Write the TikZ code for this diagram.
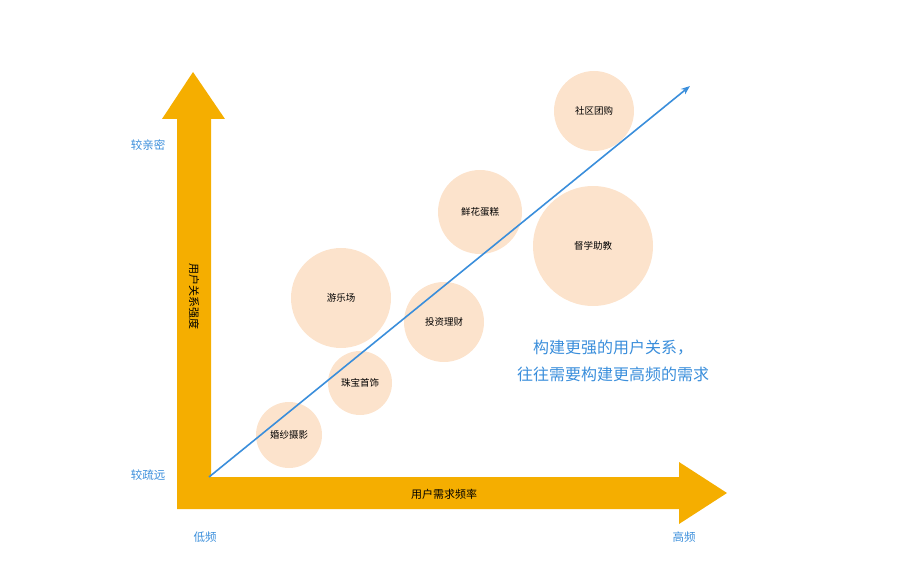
\documentclass[tikz,border=0pt]{standalone}
\usepackage{fontspec}
\setmainfont{Noto Sans CJK SC}
\usetikzlibrary{positioning, arrows.meta}
\definecolor{gold}{HTML}{F5AE00}
\definecolor{peach}{HTML}{FCE3CC}
\definecolor{skyblue}{HTML}{3A8EDB}
\begin{document}
\begin{tikzpicture}[x=1pt, y=-1pt,
    bubble/.style={circle, fill=peach, inner sep=0pt, font=\fontsize{9.5}{11}\selectfont},
    tag/.style={text=skyblue, font=\fontsize{11.5}{13}\selectfont}]
\useasboundingbox (0,0) rectangle (899,585);
% axes
\fill[gold] (177,509) -- (177,119) -- (162,119) -- (193,72) -- (225,119) -- (211,119)
    -- (211,477) -- (679,477) -- (679,462) -- (727,493) -- (679,524) -- (679,509) -- cycle;
% bubbles
\node[bubble, minimum size=80pt]  (tuangou) at (594,111) {社区团购};
\node[bubble, minimum size=84pt]  (xianhua) at (480,212) {鲜花蛋糕};
\node[bubble, minimum size=120pt] (duxue)   at (593,246) {督学助教};
\node[bubble, minimum size=100pt] (youle)   at (341,298) {游乐场};
\node[bubble, minimum size=80pt]  (touzi)   at (444,322) {投资理财};
\node[bubble, minimum size=64pt]  (zhubao)  at (360,383) {珠宝首饰};
\node[bubble, minimum size=66pt]  (hunsha)  at (289,435) {婚纱摄影};
% trend
\coordinate (origin) at (209,477);
\coordinate (top) at (690,86);
\draw[skyblue, line width=1.6pt, -{Stealth[length=9pt]}] (origin) -- (top);
% labels
\node[tag] (near) at (148,145) {较亲密};
\node[tag] (far)  at (148,475) {较疏远};
\node[tag] (low)  at (205,537) {低频};
\node[tag] (high) at (684,537) {高频};
\node[rotate=-90, font=\fontsize{11}{13}\selectfont] (rel) at (194,297) {用户关系强度};
\node[font=\fontsize{11}{13}\selectfont] (freq) at (444,494) {用户需求频率};
\node[text=skyblue, align=center, font=\fontsize{16}{27}\selectfont] (note) at (613,361)
    {构建更强的用户关系，\\往往需要构建更高频的需求};
\end{tikzpicture}
\end{document}
